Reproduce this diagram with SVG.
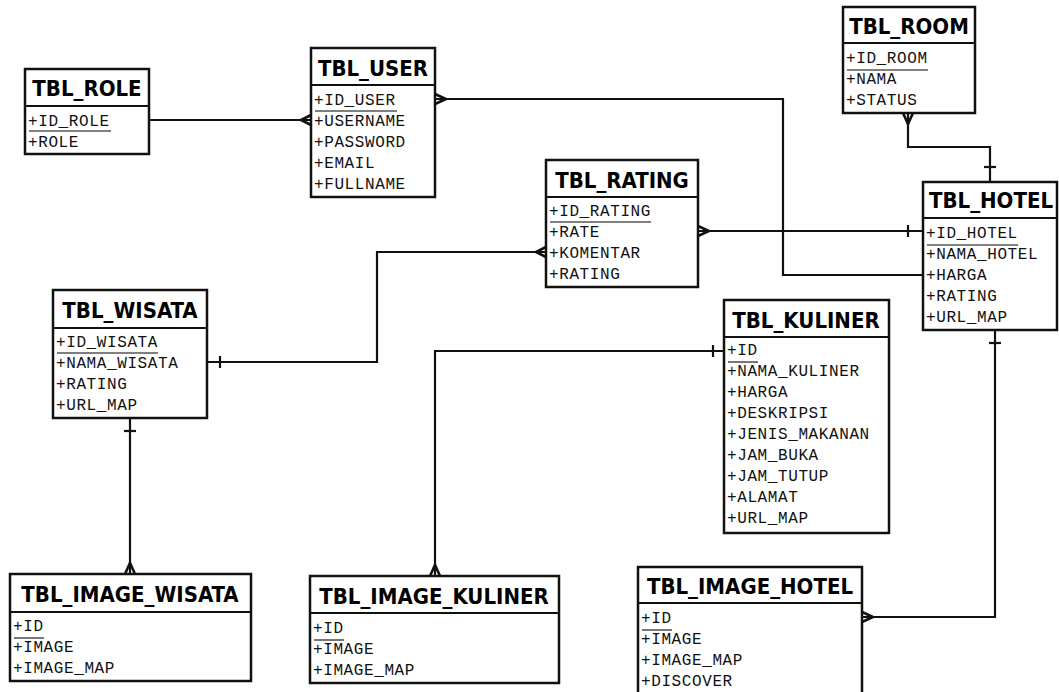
<svg xmlns="http://www.w3.org/2000/svg" width="1059" height="692" viewBox="0 0 1059 692">
<style>
.box{fill:#fff;stroke:#111;stroke-width:2.5}
.div{stroke:#111;stroke-width:2}
.t{font-family:'DejaVu Sans Condensed','DejaVu Sans',sans-serif;font-stretch:condensed;font-weight:bold;font-size:22px;fill:#000;text-anchor:middle}
.f{font-family:'Liberation Mono','Courier New',monospace;font-size:16px;letter-spacing:0.6px;fill:#111}
.pk{stroke:#555;stroke-width:1.6}
.c{fill:none;stroke:#111;stroke-width:2.2}
.cf{fill:none;stroke:#111;stroke-width:2.6}
</style>
<rect width="1059" height="692" fill="#fff"/>

<g id="connectors">
  <path class="c" d="M149,120 H311"/>
  <path class="cf" d="M311,115 L301,120 L311,125"/>
  <path class="c" d="M435,99 H783 V275 H923"/>
  <path class="cf" d="M435,94 L446,99 L435,104"/>
  <path class="c" d="M908,113 V147 H990 V182"/>
  <path class="cf" d="M903,113 L908,124 L913,113"/>
  <path class="c" d="M984,167 H996"/>
  <path class="c" d="M698,231 H923"/>
  <path class="cf" d="M698,226 L709,231 L698,236"/>
  <path class="c" d="M908,225 V237"/>
  <path class="c" d="M546,252 H377 V362 H207"/>
  <path class="cf" d="M546,247 L536,252 L546,257"/>
  <path class="c" d="M220,356 V368"/>
  <path class="c" d="M130,418 V574"/>
  <path class="c" d="M124,431 H136"/>
  <path class="cf" d="M125,574 L130,563 L135,574"/>
  <path class="c" d="M724,351 H435 V576"/>
  <path class="c" d="M713,345 V357"/>
  <path class="cf" d="M430,576 L435,565 L440,576"/>
  <path class="c" d="M995,330 V617 H862"/>
  <path class="c" d="M989,343 H1001"/>
  <path class="cf" d="M862,612 L873,617 L862,622"/>
</g>

<g id="tbl_role">
  <rect class="box" x="25" y="69" width="124" height="85"/>
  <line class="div" x1="25" y1="106" x2="149" y2="106"/>
  <text class="t" x="87" y="96">TBL_ROLE</text>
  <text class="f" x="28" y="126">+ID_ROLE</text>
  <line class="pk" x1="29" y1="131" x2="111" y2="131"/>
  <text class="f" x="28" y="147">+ROLE</text>
</g>

<g id="tbl_user">
  <rect class="box" x="311" y="48" width="124" height="149"/>
  <line class="div" x1="311" y1="85" x2="435" y2="85"/>
  <text class="t" x="373" y="76">TBL_USER</text>
  <text class="f" x="314" y="105">+ID_USER</text>
  <line class="pk" x1="315" y1="111" x2="397" y2="111"/>
  <text class="f" x="314" y="126">+USERNAME</text>
  <text class="f" x="314" y="147">+PASSWORD</text>
  <text class="f" x="314" y="168">+EMAIL</text>
  <text class="f" x="314" y="189">+FULLNAME</text>
</g>

<g id="tbl_room">
  <rect class="box" x="843" y="7" width="132" height="106"/>
  <line class="div" x1="843" y1="43" x2="975" y2="43"/>
  <text class="t" x="909" y="34">TBL_ROOM</text>
  <text class="f" x="846" y="63">+ID_ROOM</text>
  <line class="pk" x1="847" y1="70" x2="928" y2="70"/>
  <text class="f" x="846" y="84">+NAMA</text>
  <text class="f" x="846" y="105">+STATUS</text>
</g>

<g id="tbl_hotel">
  <rect class="box" x="923" y="182" width="134" height="148"/>
  <line class="div" x1="923" y1="218" x2="1057" y2="218"/>
  <text class="t" x="991" y="208">TBL_HOTEL</text>
  <text class="f" x="926" y="238">+ID_HOTEL</text>
  <line class="pk" x1="927" y1="245" x2="1018" y2="245"/>
  <text class="f" x="926" y="259">+NAMA_HOTEL</text>
  <text class="f" x="926" y="280">+HARGA</text>
  <text class="f" x="926" y="301">+RATING</text>
  <text class="f" x="926" y="322">+URL_MAP</text>
</g>

<g id="tbl_rating">
  <rect class="box" x="546" y="160" width="152" height="127"/>
  <line class="div" x1="546" y1="197" x2="698" y2="197"/>
  <text class="t" x="622" y="188">TBL_RATING</text>
  <text class="f" x="549" y="216">+ID_RATING</text>
  <line class="pk" x1="550" y1="222" x2="651" y2="222"/>
  <text class="f" x="549" y="237">+RATE</text>
  <text class="f" x="549" y="258">+KOMENTAR</text>
  <text class="f" x="549" y="279">+RATING</text>
</g>

<g id="tbl_wisata">
  <rect class="box" x="53" y="290" width="154" height="128"/>
  <line class="div" x1="53" y1="328" x2="207" y2="328"/>
  <text class="t" x="130" y="318">TBL_WISATA</text>
  <text class="f" x="56" y="347">+ID_WISATA</text>
  <line class="pk" x1="57" y1="353" x2="158" y2="353"/>
  <text class="f" x="56" y="368">+NAMA_WISATA</text>
  <text class="f" x="56" y="389">+RATING</text>
  <text class="f" x="56" y="410">+URL_MAP</text>
</g>

<g id="tbl_kuliner">
  <rect class="box" x="724" y="300" width="165" height="233"/>
  <line class="div" x1="724" y1="337" x2="889" y2="337"/>
  <text class="t" x="806" y="328">TBL_KULINER</text>
  <text class="f" x="727" y="355">+ID</text>
  <line class="pk" x1="728" y1="362" x2="758" y2="362"/>
  <text class="f" x="727" y="376">+NAMA_KULINER</text>
  <text class="f" x="727" y="397">+HARGA</text>
  <text class="f" x="727" y="418">+DESKRIPSI</text>
  <text class="f" x="727" y="439">+JENIS_MAKANAN</text>
  <text class="f" x="727" y="460">+JAM_BUKA</text>
  <text class="f" x="727" y="481">+JAM_TUTUP</text>
  <text class="f" x="727" y="502">+ALAMAT</text>
  <text class="f" x="727" y="523">+URL_MAP</text>
</g>

<g id="tbl_image_wisata">
  <rect class="box" x="10" y="574" width="241" height="107"/>
  <line class="div" x1="10" y1="612" x2="251" y2="612"/>
  <text class="t" x="130" y="602">TBL_IMAGE_WISATA</text>
  <text class="f" x="13" y="631">+ID</text>
  <line class="pk" x1="14" y1="638" x2="44" y2="638"/>
  <text class="f" x="13" y="652">+IMAGE</text>
  <text class="f" x="13" y="673">+IMAGE_MAP</text>
</g>

<g id="tbl_image_kuliner">
  <rect class="box" x="310" y="576" width="249" height="107"/>
  <line class="div" x1="310" y1="613" x2="559" y2="613"/>
  <text class="t" x="434" y="604">TBL_IMAGE_KULINER</text>
  <text class="f" x="313" y="633">+ID</text>
  <line class="pk" x1="314" y1="640" x2="344" y2="640"/>
  <text class="f" x="313" y="654">+IMAGE</text>
  <text class="f" x="313" y="675">+IMAGE_MAP</text>
</g>

<g id="tbl_image_hotel">
  <rect class="box" x="638" y="567" width="224" height="140"/>
  <line class="div" x1="638" y1="603" x2="862" y2="603"/>
  <text class="t" x="750" y="594">TBL_IMAGE_HOTEL</text>
  <text class="f" x="641" y="623">+ID</text>
  <line class="pk" x1="642" y1="630" x2="672" y2="630"/>
  <text class="f" x="641" y="644">+IMAGE</text>
  <text class="f" x="641" y="665">+IMAGE_MAP</text>
  <text class="f" x="641" y="686">+DISCOVER</text>
</g>
</svg>
